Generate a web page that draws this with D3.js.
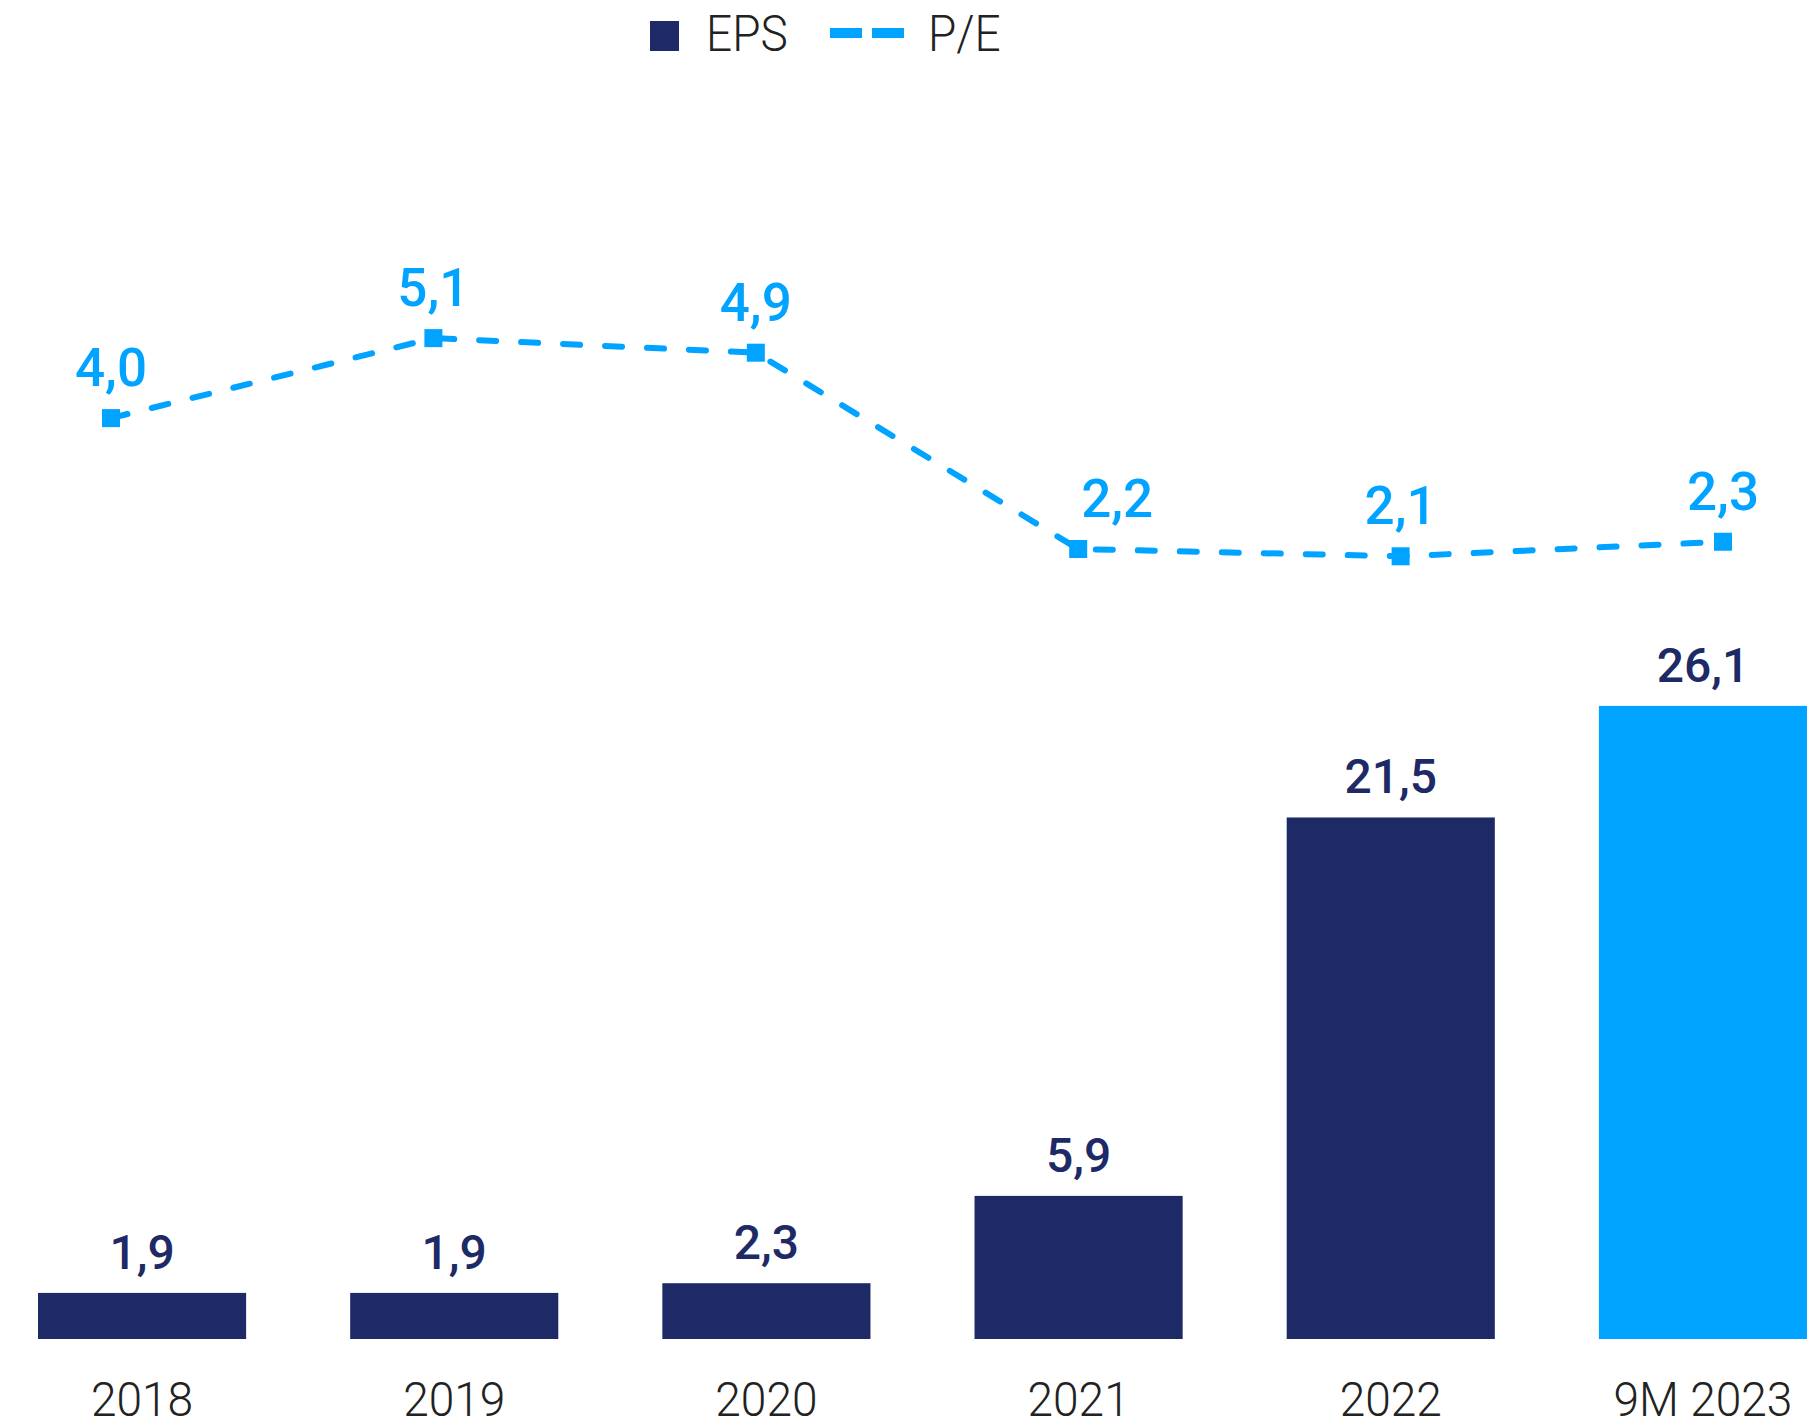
<!DOCTYPE html>
<html>
<head>
<meta charset="utf-8">
<script src="https://cdn.jsdelivr.net/npm/d3@7"></script>
<style>
  html, body { margin: 0; padding: 0; background: #fff; }
  svg { display: block; font-family: Roboto, "Open Sans", sans-serif; }
</style>
</head>
<body>
<div id="chart"></div>
<script>
// chart data
const categories = ["2018", "2019", "2020", "2021", "2022", "9M 2023"];
const epsValues = [1.9, 1.9, 2.3, 5.9, 21.5, 26.1];
const peValues = [4.0, 5.1, 4.9, 2.2, 2.1, 2.3];
const legendLabels = ["EPS", "P/E"];

const navy = "#1e2a66";
const sky = "#00a3ff";
const width = 1819, height = 1428;

const locale = d3.formatLocale({ decimal: ",", thousands: " ", grouping: [3], currency: ["", ""] });
const fmt = locale.format(".1f");

const svg = d3.select("#chart").append("svg")
    .attr("width", width)
    .attr("height", height);

// bars
const x = d3.scaleBand()
    .domain(categories)
    .range([38, 1807])
    .paddingInner(1 / 3)
    .paddingOuter(0);

const yBar = d3.scaleLinear()
    .domain([0, 55.2])
    .range([1339, 0]);

svg.append("g").selectAll("rect")
    .data(epsValues)
    .enter().append("rect")
    .attr("x", (d, i) => x(categories[i]))
    .attr("y", d => yBar(d))
    .attr("width", x.bandwidth())
    .attr("height", d => yBar(0) - yBar(d))
    .attr("fill", (d, i) => i === categories.length - 1 ? sky : navy);

svg.append("g").selectAll("text")
    .data(epsValues)
    .enter().append("text")
    .attr("x", (d, i) => x(categories[i]) + x.bandwidth() / 2)
    .attr("y", d => yBar(d) - 24)
    .attr("text-anchor", "middle")
    .attr("font-size", 48)
    .attr("font-weight", 500)
    .attr("fill", navy)
    .text(d => fmt(d));

// x axis
const xAxis = svg.append("g")
    .attr("transform", "translate(0," + yBar(0) + ")")
    .call(d3.axisBottom(x).tickSize(0));
xAxis.select(".domain").remove();
xAxis.selectAll("text")
    .attr("y", 77)
    .attr("dy", 0)
    .attr("font-size", 48)
    .attr("font-weight", 300)
    .attr("font-family", "Roboto, sans-serif")
    .attr("fill", "#222")
    .attr("transform", "scale(0.96,1)");

// P/E line
const xLine = d3.scalePoint()
    .domain(categories)
    .range([111, 1723]);

const yLine = d3.scaleLinear()
    .domain([0, 9.75])
    .range([709, 0]);

const line = d3.line()
    .x((d, i) => xLine(categories[i]))
    .y(d => yLine(d));

svg.append("path")
    .datum(peValues)
    .attr("d", line)
    .attr("fill", "none")
    .attr("stroke", sky)
    .attr("stroke-width", 6)
    .attr("stroke-linecap", "round")
    .attr("stroke-dasharray", "17 25");

const markerSize = 18;
svg.append("g").selectAll("rect")
    .data(peValues)
    .enter().append("rect")
    .attr("x", (d, i) => xLine(categories[i]) - markerSize / 2)
    .attr("y", d => yLine(d) - markerSize / 2)
    .attr("width", markerSize)
    .attr("height", markerSize)
    .attr("fill", sky);

// label for 2021 is nudged right, off the line
const labelShift = { "2021": 39 };
svg.append("g").selectAll("text")
    .data(peValues)
    .enter().append("text")
    .attr("x", (d, i) => xLine(categories[i]) + (labelShift[categories[i]] || 0))
    .attr("y", d => yLine(d) - 32)
    .attr("text-anchor", "middle")
    .attr("font-size", 53)
    .attr("font-weight", 500)
    .attr("fill", sky)
    .text(d => fmt(d));

// legend
const legend = svg.append("g").attr("id", "legend");
legend.append("rect")
    .attr("x", 650).attr("y", 21)
    .attr("width", 29).attr("height", 30)
    .attr("fill", navy);
legend.append("line")
    .attr("x1", 830).attr("x2", 904)
    .attr("y1", 33).attr("y2", 33)
    .attr("stroke", sky)
    .attr("stroke-width", 10)
    .attr("stroke-dasharray", "32 10");
legend.selectAll("text")
    .data(legendLabels)
    .enter().append("text")
    .attr("transform", (d, i) => "translate(" + (i === 0 ? 706 : 928) + ",51) scale(0.92,1)")
    .attr("font-size", 50)
    .attr("font-weight", 300)
    .attr("fill", "#222")
    .text(d => d);
</script>
</body>
</html>
